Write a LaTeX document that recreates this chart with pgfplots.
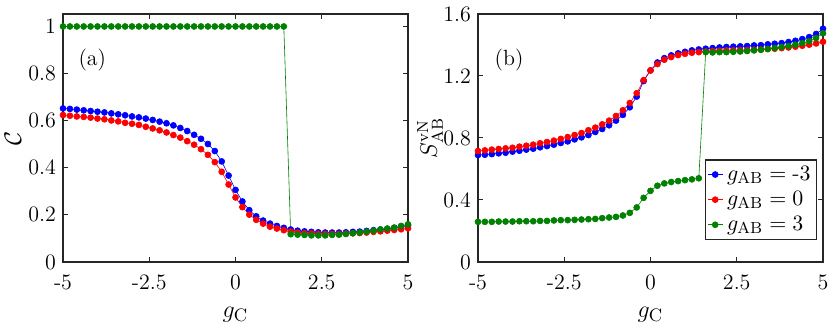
\documentclass[border=0pt]{standalone}
\usepackage{pgfplots}
\usepackage{pgfplotstable}
\pgfplotsset{compat=1.18}

\definecolor{mblue}{rgb}{0,0,1}
\definecolor{mred}{rgb}{1,0,0}
\definecolor{mgreen}{rgb}{0,0.5,0}

% columns: g_C, g_AB=-3, g_AB=0, g_AB=3
\pgfplotstableread{
x n3 z0 p3
-5.0 0.652 0.624 1
-4.8 0.650 0.621 1
-4.6 0.647 0.618 1
-4.4 0.644 0.616 1
-4.2 0.641 0.613 1
-4.0 0.638 0.609 1
-3.8 0.635 0.606 1
-3.6 0.631 0.601 1
-3.4 0.627 0.597 1
-3.2 0.623 0.591 1
-3.0 0.618 0.587 1
-2.8 0.614 0.582 1
-2.6 0.609 0.574 1
-2.4 0.603 0.567 1
-2.2 0.596 0.559 1
-2.0 0.589 0.550 1
-1.8 0.580 0.539 1
-1.6 0.569 0.528 1
-1.4 0.556 0.513 1
-1.2 0.540 0.498 1
-1.0 0.523 0.479 1
-0.8 0.501 0.455 1
-0.6 0.471 0.424 1
-0.4 0.427 0.383 1
-0.2 0.367 0.329 1
0.0 0.306 0.274 1
0.2 0.257 0.233 1
0.4 0.220 0.201 1
0.6 0.194 0.179 1
0.8 0.176 0.163 1
1.0 0.163 0.150 1
1.2 0.153 0.142 1
1.4 0.145 0.135 1
1.6 0.138 0.129 0.118
1.8 0.133 0.125 0.116
2.0 0.130 0.122 0.115
2.2 0.128 0.121 0.113
2.4 0.126 0.119 0.113
2.6 0.125 0.119 0.113
2.8 0.125 0.119 0.115
3.0 0.125 0.119 0.116
3.2 0.126 0.121 0.119
3.4 0.128 0.122 0.122
3.6 0.129 0.123 0.125
3.8 0.132 0.125 0.129
4.0 0.135 0.128 0.133
4.2 0.138 0.130 0.138
4.4 0.140 0.133 0.142
4.6 0.145 0.136 0.146
4.8 0.149 0.139 0.153
5.0 0.155 0.143 0.160
}\conc

\pgfplotstableread{
x n3 z0 p3
-5.0 0.690 0.716 0.259
-4.8 0.692 0.720 0.259
-4.6 0.696 0.725 0.259
-4.4 0.701 0.729 0.261
-4.2 0.705 0.733 0.261
-4.0 0.712 0.737 0.261
-3.8 0.718 0.744 0.263
-3.6 0.725 0.750 0.263
-3.4 0.731 0.757 0.263
-3.2 0.740 0.766 0.265
-3.0 0.748 0.774 0.265
-2.8 0.757 0.783 0.268
-2.6 0.768 0.794 0.270
-2.4 0.778 0.806 0.270
-2.2 0.791 0.819 0.272
-2.0 0.804 0.832 0.274
-1.8 0.819 0.850 0.276
-1.6 0.839 0.867 0.278
-1.4 0.858 0.888 0.283
-1.2 0.882 0.912 0.287
-1.0 0.912 0.942 0.291
-0.8 0.949 0.979 0.300
-0.6 0.998 1.026 0.317
-0.4 1.067 1.089 0.352
-0.2 1.167 1.173 0.414
0.0 1.236 1.236 0.459
0.2 1.287 1.277 0.492
0.4 1.315 1.305 0.507
0.6 1.333 1.322 0.516
0.8 1.346 1.335 0.522
1.0 1.356 1.343 0.528
1.2 1.365 1.350 0.533
1.4 1.371 1.354 0.540
1.6 1.376 1.358 1.354
1.8 1.380 1.361 1.352
2.0 1.384 1.363 1.354
2.2 1.387 1.365 1.354
2.4 1.389 1.365 1.356
2.6 1.391 1.367 1.358
2.8 1.393 1.367 1.361
3.0 1.397 1.369 1.365
3.2 1.399 1.371 1.369
3.4 1.404 1.374 1.374
3.6 1.408 1.376 1.380
3.8 1.412 1.380 1.387
4.0 1.419 1.384 1.393
4.2 1.427 1.389 1.402
4.4 1.438 1.395 1.412
4.6 1.451 1.402 1.425
4.8 1.471 1.410 1.445
5.0 1.505 1.421 1.475
}\entr

\pgfplotsset{
  panel/.style={
    scale only axis,
    width=172.5pt, height=124pt,
    xmin=-5, xmax=5,
    xtick={-5,-2.5,0,2.5,5},
    xticklabels={-5,-2.5,0,2.5,5},
    tick align=inside,
    major tick length=2.5pt,
    axis line style={black!85, line width=0.6pt},
    every tick/.style={black!85, line width=0.5pt},
    tick label style={font=\fontsize{11}{13}\selectfont},
    xticklabel style={yshift=-3pt},
    xlabel={$g_{\mathrm{C}}$},
    xlabel style={font=\fontsize{12.5}{14}\selectfont, inner sep=0pt,
      at={(axis description cs:0.5,-0.225)}, anchor=base},
    clip=false,
  },
  curve/.style={line width=0.3pt, mark=*, mark size=1.5pt, mark options={solid}},
}

\begin{document}
\begin{tikzpicture}
\path[use as bounding box] (0,0) rectangle (415pt,162pt);

\begin{axis}[panel,
  at={(31.5pt,31pt)}, anchor=south west,
  ymin=0, ymax=1.053,
  ytick={0,0.2,0.4,0.6,0.8,1},
  yticklabels={0,0.2,0.4,0.6,0.8,1},
  ylabel={$\mathcal{C}$},
  ylabel style={font=\fontsize{12}{14}\selectfont, inner sep=0pt,
    at={(axis description cs:-0.145,0.5)}, anchor=center},
]
\addplot[curve, mblue] table[x=x, y=n3] {\conc};
\addplot[curve, mred] table[x=x, y=z0] {\conc};
\addplot[curve, mgreen] table[x=x, y=p3] {\conc};
\node[font=\fontsize{11}{13}\selectfont] at (rel axis cs:0.085,0.815) {(a)};
\end{axis}

\begin{axis}[panel,
  at={(239pt,31pt)}, anchor=south west,
  ymin=0, ymax=1.6,
  ytick={0,0.4,0.8,1.2,1.6},
  yticklabels={0,0.4,0.8,1.2,1.6},
  ylabel={$S^{\mathrm{vN}}_{\mathrm{AB}}$},
  ylabel style={font=\fontsize{12}{14}\selectfont, inner sep=0pt,
    at={(axis description cs:-0.139,0.5)}, anchor=center},
  legend cell align=left,
  legend style={at={(rel axis cs:0.983,0.089)}, anchor=south east,
    draw=black!85, line width=0.6pt, font=\fontsize{11}{13}\selectfont,
    inner sep=1pt, row sep=0pt},
  legend image code/.code={%
    \draw[mark repeat=2, mark phase=2, #1]
      plot coordinates {(0pt,0pt) (3.75pt,0pt) (7.5pt,0pt)};},
]
\addplot[curve, mblue] table[x=x, y=n3] {\entr};
\addplot[curve, mred] table[x=x, y=z0] {\entr};
\addplot[curve, mgreen] table[x=x, y=p3] {\entr};
\node[font=\fontsize{11}{13}\selectfont] at (rel axis cs:0.09,0.815) {(b)};
\legend{$g_{\mathrm{AB}} = \textrm{-}3$, $g_{\mathrm{AB}} = 0$, $g_{\mathrm{AB}} = 3$}
\end{axis}
\end{tikzpicture}
\end{document}
